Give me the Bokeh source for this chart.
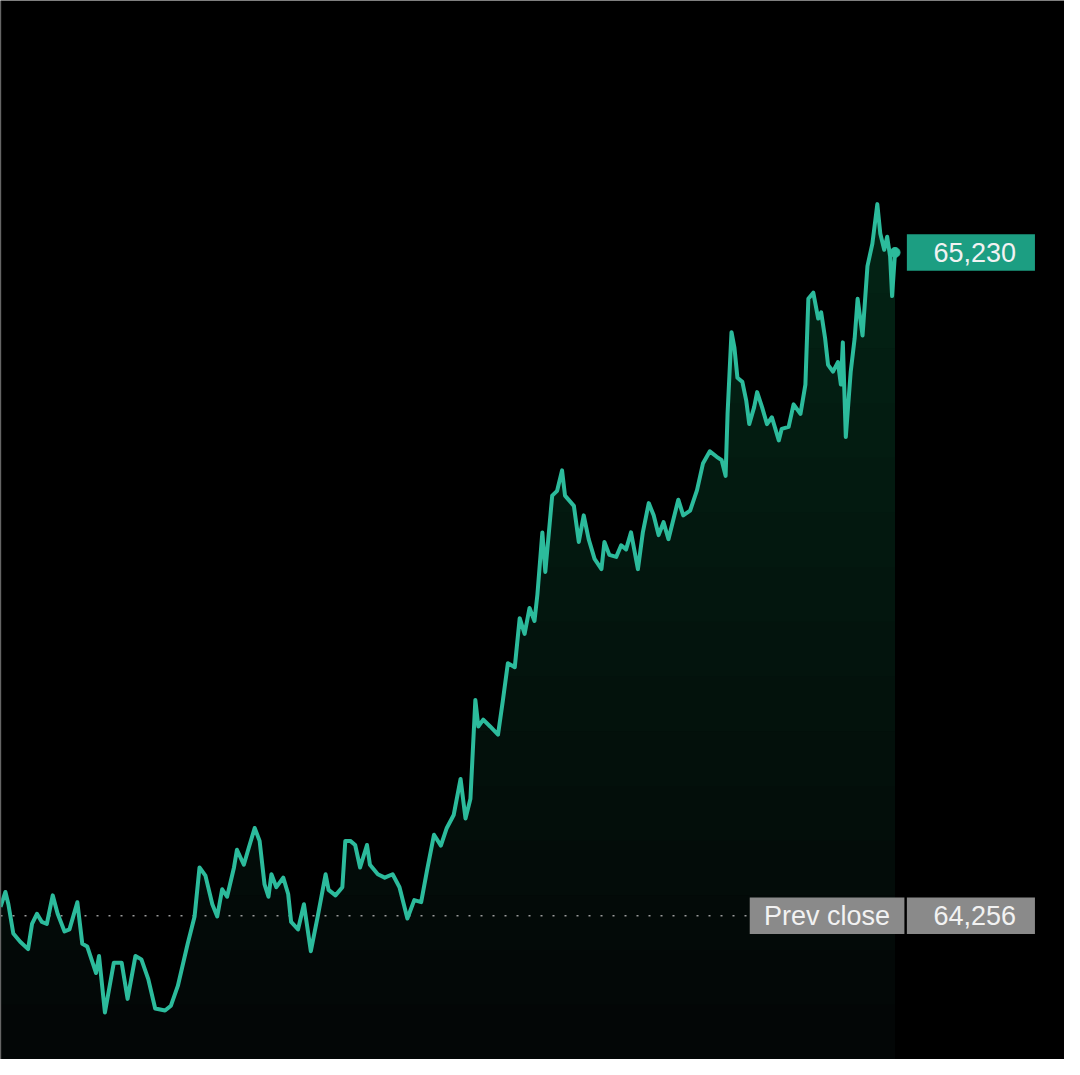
import numpy as np
from bokeh.plotting import figure
from bokeh.models import Range1d, Span
from bokeh.core.properties import value
from bokeh.embed import file_html
from bokeh.resources import INLINE

# ---- data (minutes into session, price) ----
minute = [0, 5, 8, 13, 20, 28, 32, 37, 42, 47,
          53, 58, 65, 70, 78, 83, 88, 97, 100, 106,
          115, 123, 129, 137, 143, 150, 157, 167, 173, 180,
          190, 197, 202, 208, 215, 220, 225, 230, 237, 240,
          247, 252, 258, 263, 268, 272, 275, 280, 287, 292,
          295, 302, 308, 315, 322, 330, 333, 340, 347, 350,
          355, 360, 365, 372, 375, 383, 390, 398, 405, 413,
          420, 427, 433, 440, 447, 453, 460, 467, 472, 477,
          482, 485, 490, 497, 505, 510, 515, 522, 527, 532,
          537, 542, 545, 550, 553, 560, 565, 570, 573, 582,
          587, 592, 597, 603, 610, 613, 618, 625, 630, 635,
          640, 647, 652, 658, 663, 668, 673, 678, 683, 688,
          693, 700, 707, 713, 720, 727, 732, 736, 738, 742,
          745, 748, 753, 757, 760, 765, 768, 773, 778, 783,
          790, 793, 800, 805, 812, 817, 820, 825, 830, 833,
          837, 840, 845, 850, 853, 855, 858, 860, 863, 867,
          870, 875, 880, 885, 890, 893, 897, 900, 903, 905,
          908]

price = [64269, 64291, 64273, 64230, 64218, 64207, 64244, 64259, 64247, 64244,
         64286, 64259, 64233, 64236, 64276, 64215, 64211, 64172, 64197, 64114,
         64187, 64187, 64134, 64197, 64192, 64163, 64120, 64117, 64124, 64153,
         64215, 64255, 64327, 64315, 64273, 64255, 64295, 64284, 64327, 64353,
         64331, 64356, 64385, 64366, 64302, 64284, 64317, 64298, 64312, 64288,
         64247, 64236, 64273, 64204, 64255, 64317, 64294, 64286, 64298, 64366,
         64366, 64360, 64327, 64360, 64331, 64317, 64312, 64317, 64298, 64252,
         64279, 64276, 64323, 64375, 64359, 64385, 64404, 64457, 64399, 64428,
         64573, 64534, 64544, 64534, 64522, 64573, 64627, 64621, 64693, 64670,
         64708, 64689, 64728, 64819, 64761, 64873, 64880, 64910, 64873, 64858,
         64805, 64844, 64809, 64780, 64765, 64805, 64786, 64783, 64800, 64794,
         64819, 64765, 64819, 64862, 64844, 64815, 64834, 64809, 64838, 64867,
         64844, 64851, 64881, 64920, 64938, 64930, 64925, 64902, 64993, 65113,
         65090, 65046, 65040, 65012, 64978, 65003, 65025, 65003, 64978, 64988,
         64954, 64971, 64974, 65007, 64993, 65036, 65162, 65171, 65133, 65142,
         65104, 65065, 65055, 65069, 65036, 65098, 64959, 64997, 65055, 65104,
         65162, 65108, 65210, 65243, 65301, 65258, 65234, 65253, 65224, 65166,
         65230]

prev_close = 64256
prev_label = "Prev close"
prev_value_label = f"{prev_close:,}"
last_label = f"{price[-1]:,}"

# ---- styling / layout ----
LINE = "#2cbb9c"
FILL = "#40a08f"
BOX_TEAL = "#1c9e82"
BOX_GRAY = "#8a8a8a"
FONT = "Liberation Sans"
W, H = 1064, 1059
X0, X1 = 0, 1080
Y0, Y1 = 64045, 65600
sx = W / (X1 - X0)

p = figure(width=W, height=H, output_backend="svg", toolbar_location=None,
           x_range=Range1d(X0, X1), y_range=Range1d(Y0, Y1),
           x_axis_location=None, y_axis_location=None,
           min_border=0, background_fill_color="#000000",
           border_fill_color="#000000")
p.grid.visible = False
p.outline_line_color = None

x = np.array(minute, dtype=float)
y = np.array(price, dtype=float)

# gradient-like fill under the line (stacked translucent bands)
levels = [float(v) for v in np.linspace(Y0, 65250, 16)]
p.varea(x=x, y1=np.full_like(y, Y0), y2=y, fill_color=FILL, fill_alpha=0.04)
for lvl in levels[1:]:
    base = np.full_like(y, lvl)
    p.varea(x=x, y1=base, y2=np.maximum(y, base), fill_color=FILL, fill_alpha=0.015)

# left border
p.add_layout(Span(location=X0, dimension="height", line_color="#4d4d4d", line_width=1.5))

# labels geometry
VAL_X = 985
PREV_X = 839
VAL_W, PREV_W, BOX_H = 130, 157, 37

# previous close dotted line
p.segment(x0=[minute[0]], x1=[PREV_X - PREV_W / 2], y0=[prev_close], y1=[prev_close],
          line_color="#9a9a9a", line_width=1.6, line_dash="2 10")

# price line
p.line(x, y, line_color=LINE, line_width=4, line_join="round")
p.scatter([minute[-1]], [price[-1]], size=10, color=LINE)

# boxes
p.rect(x=[PREV_X, VAL_X], y=[prev_close, prev_close], width=[PREV_W * sx, VAL_W * sx],
       height=BOX_H * sx, width_units="screen", height_units="screen",
       fill_color=BOX_GRAY, line_color=None)
p.rect(x=[VAL_X], y=[price[-1]], width=VAL_W * sx, height=BOX_H * sx,
       width_units="screen", height_units="screen", fill_color=BOX_TEAL, line_color=None)

p.text(x=[PREV_X, VAL_X + 4, VAL_X + 4], y=[prev_close, prev_close, price[-1]],
       text=[prev_label, prev_value_label, last_label],
       text_align="center", text_baseline="middle", text_color="#f2f2f2",
       text_font=value(FONT), text_font_size="27px")

open("out.html", "w").write(file_html(p, INLINE))
